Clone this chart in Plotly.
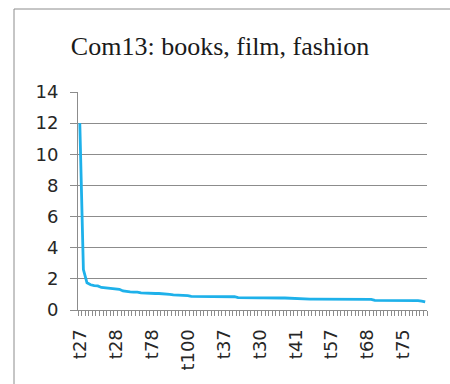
import plotly.graph_objects as go

# Topic weights (%) for community 13, sorted in descending order
weights = [
    12.0, 2.60, 1.75, 1.62, 1.57, 1.55, 1.45, 1.42, 1.41, 1.38,
    1.35, 1.33, 1.22, 1.17, 1.16, 1.15, 1.15, 1.10, 1.08, 1.07,
    1.07, 1.06, 1.06, 1.05, 1.05, 1.00, 0.97, 0.96, 0.96, 0.95,
    0.92, 0.88, 0.88, 0.88, 0.87, 0.87, 0.87, 0.87, 0.86, 0.86,
    0.86, 0.86, 0.86, 0.85, 0.79, 0.78, 0.78, 0.78, 0.78, 0.78,
    0.78, 0.78, 0.77, 0.77, 0.77, 0.77, 0.77, 0.77, 0.76, 0.71,
    0.70, 0.70, 0.70, 0.70, 0.70, 0.70, 0.70, 0.70, 0.70, 0.70,
    0.70, 0.70, 0.70, 0.70, 0.69, 0.69, 0.69, 0.69, 0.69, 0.69,
    0.69, 0.68, 0.62, 0.62, 0.62, 0.62, 0.62, 0.62, 0.61, 0.61,
    0.61, 0.61, 0.61, 0.60, 0.60, 0.57, 0.52,
]
positions = list(range(len(weights)))

# Every tenth topic is labelled on the category axis
label_positions = [0, 10, 20, 30, 40, 50, 60, 70, 80, 90]
label_texts = ["t27", "t28", "t78", "t100", "t37", "t30", "t41", "t57", "t68", "t75"]

y_ticks = [0, 2, 4, 6, 8, 10, 12, 14]

W, H = 450, 384
L, R, T, B = 78, 23, 92, 74
pw, ph = W - L - R, H - T - B

def px_x(p):
    return (p - L) / pw

def px_y(p):
    return (H - B - p) / ph

grey = "#8c8c8c"
tick_font = dict(family="DejaVu Sans", size=18, color="#262626")

fig = go.Figure()
fig.add_trace(go.Scatter(
    x=positions, y=weights, mode="lines",
    line=dict(color="#1eb1ea", width=2.8),
    hoverinfo="skip", showlegend=False,
))

fig.update_layout(
    width=W, height=H,
    margin=dict(l=L, r=R, t=T, b=B, pad=0),
    paper_bgcolor="white", plot_bgcolor="white",
    title=dict(
        text="Com13: books, film, fashion",
        font=dict(family="Liberation Serif", size=26, color="#1a1a1a"),
        x=220 / W, xanchor="center", xref="container",
        y=1 - 46 / H, yanchor="middle", yref="container",
    ),
    xaxis=dict(
        range=[-0.5, len(weights) - 0.5], automargin=False,
        tickmode="array", tickvals=label_positions, ticktext=label_texts,
        tickangle=-90, ticks="", showgrid=False, zeroline=False,
        showline=True, linecolor=grey, linewidth=1,
        tickfont=tick_font, ticklabelstandoff=11,
        minor=dict(ticks="outside", tick0=-0.5, dtick=1, ticklen=5,
                   tickcolor=grey, tickwidth=1, showgrid=False),
    ),
    yaxis=dict(
        range=[0, 14], automargin=False, tickmode="array", tickvals=y_ticks,
        ticks="outside", ticklen=7, tickcolor=grey, tickwidth=1,
        showgrid=True, gridcolor=grey, gridwidth=1, zeroline=False,
        showline=True, linecolor=grey, linewidth=1,
        tickfont=tick_font, ticklabelstandoff=8,
    ),
    shapes=[dict(
        type="rect", xref="paper", yref="paper",
        x0=px_x(14), x1=px_x(460), y0=px_y(400), y1=px_y(9),
        line=dict(color=grey, width=1), fillcolor="rgba(0,0,0,0)",
        layer="below",
    )],
)

fig.write_html("out.html")
